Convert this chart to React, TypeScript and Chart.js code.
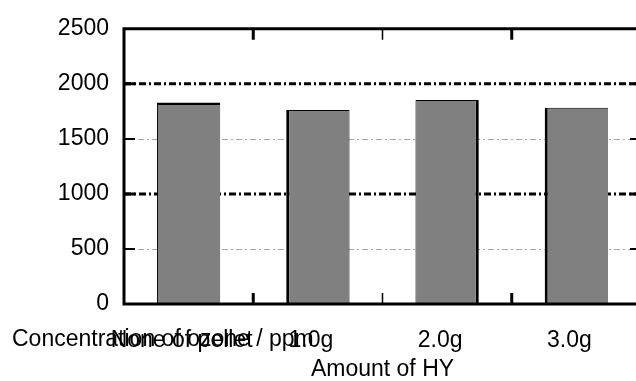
import { useEffect, useRef } from 'react';
import { Chart, registerables } from 'chart.js';

Chart.register(...registerables);

const categories = ['None of pellet', '1.0g', '2.0g', '3.0g'];
const ozoneValues = [1830, 1763, 1854, 1782];
const yMin = 0;
const yMax = 2500;
const yStep = 500;
const majorGridValues = [1000, 2000];
const minorGridValues = [500, 1500];
const yAxisTitle = 'Concentration of ozone / ppm';
const xAxisTitle = 'Amount of HY';

const FONT = "'Liberation Sans', Arial, sans-serif";
const FONT_SIZE = 23;

const barBorders = [
  { top: 3, left: 1, right: 0, bottom: 0 },
  { top: 1, left: 3, right: 1, bottom: 0 },
  { top: 1, left: 1, right: 3, bottom: 0 },
  { top: 1, left: 3, right: 0, bottom: 0 },
];

const framePlugin = {
  id: 'frame',
  beforeDatasetsDraw(chart: any) {
    const { ctx, chartArea, scales } = chart;
    const { left, right } = chartArea;
    const y = scales.y;
    ctx.save();
    minorGridValues.forEach((v) => {
      const py = Math.round(y.getPixelForValue(v)) + 0.5;
      ctx.strokeStyle = '#a8a8a8';
      ctx.lineWidth = 1;
      ctx.setLineDash([6, 3, 2, 3]);
      ctx.beginPath();
      ctx.moveTo(left, py);
      ctx.lineTo(right, py);
      ctx.stroke();
    });
    majorGridValues.forEach((v) => {
      const py = y.getPixelForValue(v);
      ctx.strokeStyle = '#000';
      ctx.lineWidth = 3;
      ctx.setLineDash([7, 3, 2, 3]);
      ctx.beginPath();
      ctx.moveTo(left, py);
      ctx.lineTo(right, py);
      ctx.stroke();
    });
    ctx.restore();
  },
  afterDatasetsDraw(chart: any) {
    const { ctx, chartArea, scales } = chart;
    const { left, right, top, bottom } = chartArea;
    const x = scales.x;
    const y = scales.y;
    ctx.save();
    ctx.setLineDash([]);
    ctx.strokeStyle = '#000';
    ctx.lineWidth = 3;
    ctx.beginPath();
    ctx.moveTo(left, top);
    ctx.lineTo(right, top);
    ctx.lineTo(right, bottom);
    ctx.lineTo(left, bottom);
    ctx.closePath();
    ctx.stroke();
    // inward y ticks
    y.ticks.forEach((t: any) => {
      if (t.value === yMin || t.value === yMax) return;
      const py = y.getPixelForValue(t.value);
      ctx.lineWidth = majorGridValues.includes(t.value) ? 3 : 2;
      ctx.beginPath();
      ctx.moveTo(left, py);
      ctx.lineTo(left + 11, py);
      ctx.moveTo(right, py);
      ctx.lineTo(right - 11, py);
      ctx.stroke();
    });
    // category boundary ticks
    for (let i = 0; i < categories.length - 1; i++) {
      const bx = (x.getPixelForValue(i) + x.getPixelForValue(i + 1)) / 2;
      ctx.lineWidth = i % 2 === 0 ? 3 : 1.5;
      ctx.beginPath();
      ctx.moveTo(bx, top);
      ctx.lineTo(bx, top + 11);
      ctx.moveTo(bx, bottom);
      ctx.lineTo(bx, bottom - 11);
      ctx.stroke();
    }
    // y-axis title drawn horizontally at bottom-left
    ctx.fillStyle = '#000';
    ctx.font = `${FONT_SIZE}px ${FONT}`;
    ctx.textAlign = 'left';
    ctx.textBaseline = 'alphabetic';
    ctx.fillText(yAxisTitle, 12, bottom + 42);
    ctx.restore();
  },
};

export default function App() {
  const ref = useRef<HTMLCanvasElement | null>(null);
  useEffect(() => {
    if (!ref.current) return;
    const chart = new Chart(ref.current, {
      type: 'bar',
      data: {
        labels: categories,
        datasets: [
          {
            data: ozoneValues,
            backgroundColor: '#808080',
            borderColor: '#000',
            borderWidth: (c: any) => barBorders[c.dataIndex] ?? 1,
            borderSkipped: false,
            barPercentage: 1,
            categoryPercentage: 0.49,
          },
        ],
      },
      options: {
        responsive: false,
        animation: false,
        devicePixelRatio: 1,
        layout: { padding: { top: 28, right: 19, bottom: 0, left: 0 } },
        plugins: { legend: { display: false }, tooltip: { enabled: false } },
        scales: {
          x: {
            grid: { display: false, drawTicks: false },
            border: { display: false },
            ticks: {
              color: '#000',
              font: { family: FONT, size: FONT_SIZE },
              padding: 23,
              labelOffset: -7,
              maxRotation: 0,
              autoSkip: false,
            },
            title: {
              display: true,
              text: xAxisTitle,
              color: '#000',
              font: { family: FONT, size: FONT_SIZE, lineHeight: 1 },
              padding: 0,
            },
            afterFit: (s: any) => {
              s.height = 77;
            },
          },
          y: {
            min: yMin,
            max: yMax,
            grid: { display: false, drawTicks: false },
            border: { display: false },
            ticks: {
              stepSize: yStep,
              color: '#000',
              font: { family: FONT, size: FONT_SIZE },
              padding: 15,
              callback: (v: any) => String(v),
            },
            afterFit: (s: any) => {
              s.width = 124;
            },
          },
        },
      },
      plugins: [framePlugin],
    });
    return () => chart.destroy();
  }, []);
  return (
    <div style={{ position: 'fixed', left: 0, top: 0, width: 636, height: 381, overflow: 'hidden', background: '#fff' }}>
      <canvas ref={ref} width={660} height={381} style={{ width: 660, height: 381, display: 'block' }} />
    </div>
  );
}
